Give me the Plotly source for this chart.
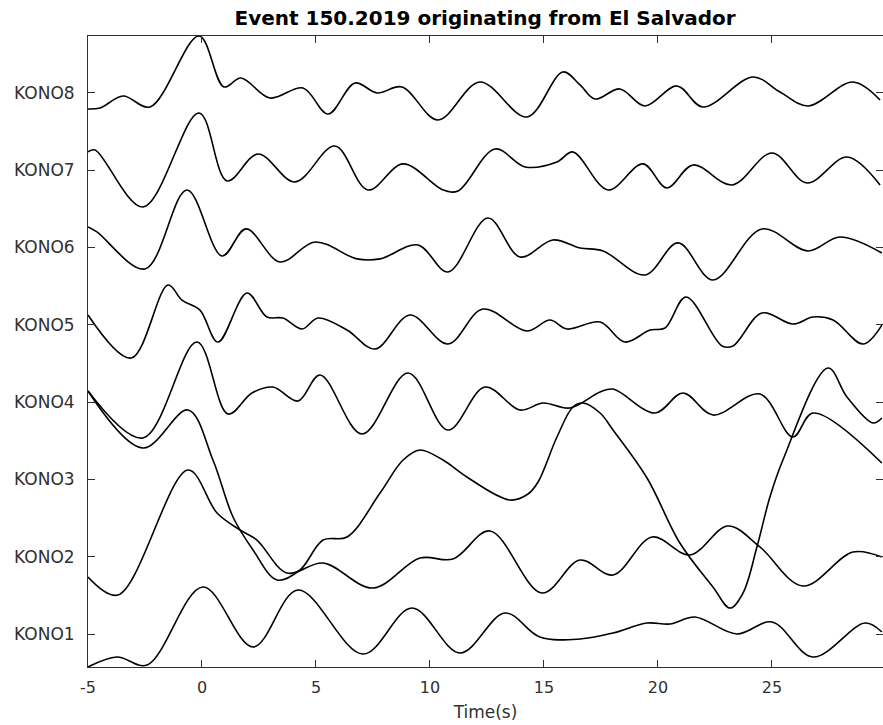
import plotly.graph_objects as go

# Station names, bottom to top
stations = ["KONO1", "KONO2", "KONO3", "KONO4", "KONO5", "KONO6", "KONO7", "KONO8"]

# Each trace: sample times (s) and normalised amplitude relative to its station baseline
t_kono1 = [-5.0, -3.73, -2.41, 0.04, 2.24, 4.21, 7.06, 9.21, 11.32, 13.29, 14.82, 16.58,
           18.03, 19.52, 20.53, 21.62, 23.46, 25.0, 26.8, 29.08, 29.82]
a_kono1 = [-0.427, -0.298, -0.401, 0.608, -0.168, 0.569, -0.259, 0.336, -0.246, 0.272, -0.039,
           -0.065, 0.013, 0.142, 0.129, 0.220, 0.0, 0.155, -0.298, 0.142, 0.026]

t_kono2 = [-5.0, -3.68, -0.61, 0.66, 1.67, 2.41, 3.73, 5.31, 7.5, 9.56, 11.01, 12.63, 14.91,
           16.58, 18.03, 19.74, 21.4, 23.07, 24.47, 26.36, 28.55, 29.82]
a_kono2 = [-0.263, -0.496, 1.122, 0.565, 0.345, 0.216, -0.211, -0.082, -0.405, -0.017, -0.030,
           0.333, -0.470, -0.043, -0.237, 0.255, 0.022, 0.397, 0.126, -0.379, 0.061, -0.004]

t_kono3 = [-5.0, -2.59, -0.61, 0.48, 1.36, 2.24, 3.29, 4.3, 5.31, 6.36, 7.81, 8.82, 9.56,
           10.57, 11.62, 13.51, 14.30, 14.74, 15.57, 16.27, 16.71, 17.46, 18.03, 19.52, 20.96,
           22.41, 23.16, 23.73, 24.34, 24.91, 25.48, 27.46, 28.29, 29.43, 29.82]
a_kono3 = [1.144, 0.406, 0.898, 0.251, -0.486, -0.913, -1.301, -1.172, -0.784, -0.745, -0.176,
           0.251, 0.381, 0.251, 0.031, -0.267, -0.189, -0.034, 0.549, 0.937, 0.988, 0.859,
           0.639, 0.018, -0.823, -1.392, -1.664, -1.470, -0.875, -0.228, 0.251, 1.441, 1.066,
           0.730, 0.795]

t_kono4 = [-5.0, -2.59, -0.22, 1.14, 2.19, 3.11, 4.21, 5.18, 7.02, 9.04, 10.79, 12.41, 13.95,
           14.96, 16.14, 17.46, 18.03, 19.87, 21.1, 22.41, 24.47, 25.92, 26.8, 29.82]
a_kono4 = [0.144, -0.464, 0.778, -0.154, 0.118, 0.195, 0.014, 0.351, -0.413, 0.376, -0.361,
           0.195, -0.102, -0.012, -0.076, 0.131, 0.169, -0.141, 0.118, -0.167, 0.105, -0.451,
           -0.141, -0.788]

t_kono5 = [-5.0, -3.11, -1.49, -0.88, -0.09, 0.7, 1.97, 2.85, 3.55, 4.39, 5.09, 6.36, 7.59,
           9.12, 10.79, 12.32, 14.25, 15.26, 16.01, 17.46, 18.55, 19.65, 20.31, 21.23, 22.81,
           23.29, 24.56, 25.92, 26.8, 27.68, 28.99, 29.82]
a_kono5 = [0.127, -0.430, 0.515, 0.321, 0.191, -0.223, 0.411, 0.101, 0.088, -0.054, 0.088,
           -0.067, -0.313, 0.127, -0.248, 0.204, -0.080, 0.062, -0.054, 0.036, -0.223, -0.067,
           -0.041, 0.360, -0.274, -0.274, 0.153, 0.010, 0.101, 0.062, -0.248, -0.003]

t_kono6 = [-5.0, -4.61, -2.5, -0.66, 0.88, 1.93, 3.42, 4.96, 6.8, 7.81, 9.47, 10.79, 12.54,
           13.95, 15.39, 16.58, 17.59, 19.43, 20.88, 22.41, 24.56, 26.58, 27.98, 29.82]
a_kono6 = [0.267, 0.202, -0.277, 0.745, -0.109, 0.241, -0.186, 0.072, -0.147, -0.147, 0.034,
           -0.316, 0.383, -0.122, 0.098, -0.005, -0.044, -0.355, 0.060, -0.419, 0.241, -0.044,
           0.137, -0.070]

t_kono7 = [-5.0, -4.69, -2.59, -0.13, 1.1, 2.46, 4.08, 5.83, 7.28, 8.82, 10.57, 11.23, 12.85,
           14.17, 15.57, 16.27, 17.81, 19.34, 20.39, 21.54, 23.25, 25.0, 26.54, 28.29, 29.74]
a_kono7 = [0.237, 0.263, -0.475, 0.741, -0.138, 0.211, -0.151, 0.314, -0.255, 0.082, -0.255,
           -0.268, 0.276, 0.043, 0.107, 0.237, -0.255, 0.082, -0.229, 0.069, -0.190, 0.224,
           -0.164, 0.172, -0.190]

t_kono8 = [-5.0, -4.47, -3.46, -2.28, -0.13, 0.96, 1.71, 2.98, 4.43, 5.53, 6.71, 7.68, 8.77,
           10.35, 12.19, 14.25, 15.83, 16.58, 17.24, 18.33, 19.43, 20.83, 21.97, 24.17, 25.35,
           26.58, 28.55, 29.74]
a_kono8 = [-0.207, -0.194, -0.039, -0.181, 0.737, 0.078, 0.194, -0.065, 0.065, -0.272, 0.129,
           0.0, 0.078, -0.349, 0.142, -0.311, 0.272, 0.104, -0.078, 0.052, -0.168, 0.091,
           -0.181, 0.207, 0.013, -0.168, 0.142, -0.091]

times = [t_kono1, t_kono2, t_kono3, t_kono4, t_kono5, t_kono6, t_kono7, t_kono8]
amps = [a_kono1, a_kono2, a_kono3, a_kono4, a_kono5, a_kono6, a_kono7, a_kono8]

x_ticks = [-5, 0, 5, 10, 15, 20, 25]

AXIS_COLOR = "#303030"
FONT = "DejaVu Sans"

fig = go.Figure()
for k, (name, t, a) in enumerate(zip(stations, times, amps), start=1):
    fig.add_trace(go.Scatter(
        x=t,
        y=[k + v for v in a],
        mode="lines",
        name=name,
        line=dict(color="black", width=1.6, shape="spline", smoothing=1.0),
        showlegend=False,
        hoverinfo="skip",
    ))

fig.update_layout(
    width=883,
    height=725,
    margin=dict(l=88, r=0, t=36, b=58),
    paper_bgcolor="white",
    plot_bgcolor="white",
    title=dict(
        text="<b>Event 150.2019 originating from El Salvador</b>",
        x=0.5493, xanchor="center",
        y=1 - 18 / 725, yanchor="middle", yref="container",
        font=dict(family=FONT, size=20, color="black"),
    ),
    font=dict(family=FONT, color=AXIS_COLOR),
)

fig.update_xaxes(
    range=[-5, 29.87],
    tickvals=x_ticks,
    ticktext=[str(v) for v in x_ticks],
    ticks="inside",
    ticklen=7,
    tickwidth=1,
    tickcolor=AXIS_COLOR,
    showline=True,
    linecolor=AXIS_COLOR,
    linewidth=1,
    mirror="ticks",
    showgrid=False,
    zeroline=False,
    tickfont=dict(family=FONT, size=16, color=AXIS_COLOR),
    ticklabelstandoff=6,
    title=dict(text="Time(s)", font=dict(family=FONT, size=17, color=AXIS_COLOR), standoff=9),
)

fig.update_yaxes(
    range=[0.573, 8.737],
    tickvals=list(range(1, len(stations) + 1)),
    ticktext=stations,
    ticks="inside",
    ticklen=7,
    tickwidth=1,
    tickcolor=AXIS_COLOR,
    showline=True,
    linecolor=AXIS_COLOR,
    linewidth=1,
    mirror="ticks",
    showgrid=False,
    zeroline=False,
    tickfont=dict(family=FONT, size=17, color=AXIS_COLOR),
    ticklabelstandoff=9,
)

fig.write_html("out.html")
